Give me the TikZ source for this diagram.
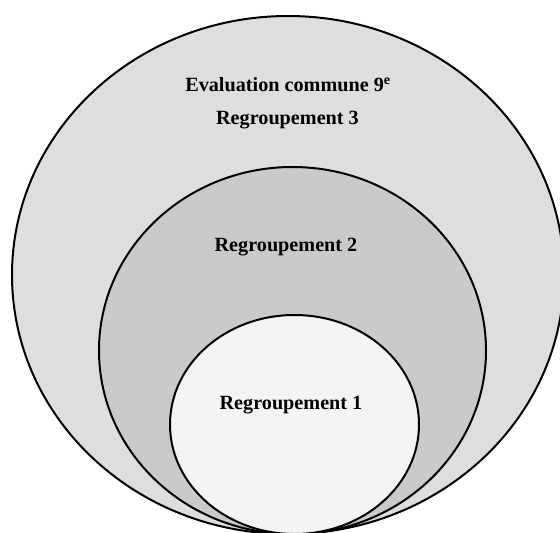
\documentclass[tikz,border=0pt]{standalone}
\usepackage{xcolor}
\usepackage{fontspec}
\setmainfont{Liberation Serif}
\usepackage{tikz}

\definecolor{fondtrois}{HTML}{DEDEDE}
\definecolor{fonddeux}{HTML}{CACACA}
\definecolor{fondun}{HTML}{F4F4F4}

\begin{document}
\begin{tikzpicture}[x=1pt,y=-1pt,
  cercle/.style={draw=black,line width=2pt},
  titre/.style={font=\fontsize{20.2}{24}\selectfont\bfseries,inner sep=0pt}]
\useasboundingbox (0,0) rectangle (560,533);
%regroupements
\draw[cercle,fill=fondtrois] (288,275) ellipse (276 and 259);
\draw[cercle,fill=fonddeux] (292.5,350.5) ellipse (193.5 and 183.5);
\draw[cercle,fill=fondun] (294.5,424.5) ellipse (124.5 and 109.5);
%Text
\node[titre] (eval) at (288,85) {Evaluation commune 9\textsuperscript{e}};
\node[titre] (grtrois) at (287.5,120) {Regroupement 3};
\node[titre] (grdeux) at (286,247.5) {Regroupement 2};
\node[titre] (grun) at (291,405) {Regroupement 1};
\end{tikzpicture}
\end{document}
